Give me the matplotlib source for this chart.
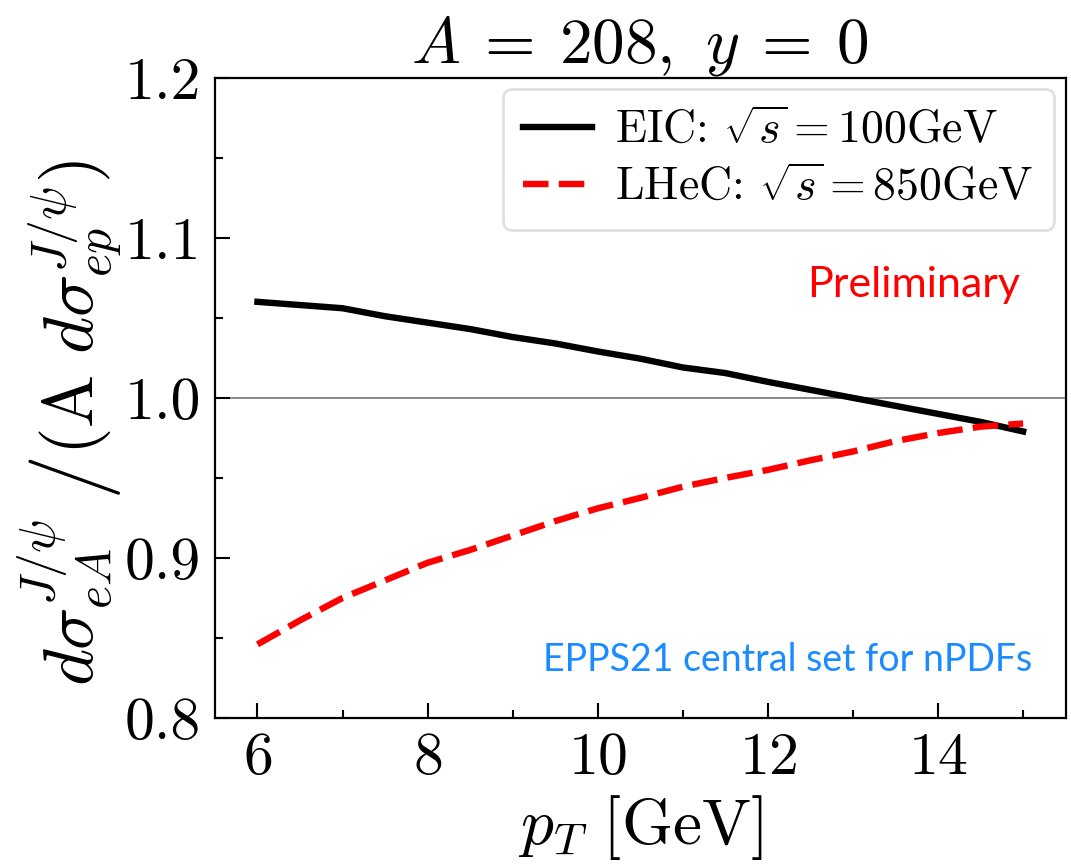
import numpy as np
import matplotlib.pyplot as plt
from matplotlib.mathtext import MathTextParser

# pT grid in GeV and the nuclear modification ratios
pt = [6.0, 6.5, 7.0, 7.5, 8.0, 8.5, 9.0, 9.5, 10.0, 10.5,
      11.0, 11.5, 12.0, 12.5, 13.0, 13.5, 14.0, 14.5, 15.0]
ratio_eic = [1.060, 1.058, 1.056, 1.051, 1.047, 1.043, 1.038, 1.034, 1.029, 1.0245,
             1.019, 1.0155, 1.010, 1.005, 1.000, 0.995, 0.990, 0.985, 0.979]
ratio_lhec = [0.846, 0.861, 0.875, 0.886, 0.897, 0.905, 0.914, 0.923, 0.931, 0.9375,
              0.9445, 0.950, 0.955, 0.961, 0.9665, 0.973, 0.978, 0.982, 0.984]

label_eic = r'EIC: $\sqrt{s}=100$GeV'
label_lhec = r'LHeC: $\sqrt{s}=850$GeV'

plt.rcParams['font.family'] = 'serif'
plt.rcParams['font.serif'] = ['cmr10']
plt.rcParams['mathtext.fontset'] = 'cm'
plt.rcParams['axes.formatter.use_mathtext'] = True
plt.rcParams['axes.unicode_minus'] = False

# y label with a tall slash; plain slash if the parser refuses it
ylab = r'$d\sigma_{eA}^{J/\psi}\;\left/(\mathrm{A}\ d\sigma_{ep}^{J/\psi})\right.$'
try:
    MathTextParser('path').parse(ylab)
except Exception:
    ylab = r'$d\sigma_{eA}^{J/\psi}\;/(\mathrm{A}\ d\sigma_{ep}^{J/\psi})$'

fig = plt.figure(figsize=(10.71, 8.64), dpi=100)
ax = fig.add_axes([0.2007, 0.169, 0.7943, 0.741])

ax.axhline(1.0, color='gray', linewidth=1.3, zorder=1)
ax.plot(pt, ratio_eic, color='black', linewidth=4.6, label=label_eic)
ax.plot(pt, ratio_lhec, color='red', linewidth=4.6, linestyle=(0, (4.0, 1.6)),
        label=label_lhec)

ax.set_xlim(5.5, 15.5)
ax.set_ylim(0.8, 1.2)
ax.set_xticks([6, 8, 10, 12, 14])
ax.set_xticks([7, 9, 11, 13, 15], minor=True)
ax.set_yticks([0.8, 0.9, 1.0, 1.1, 1.2])
ax.set_yticks([0.85, 0.95, 1.05, 1.15], minor=True)
ax.yaxis.set_major_formatter(plt.FuncFormatter(lambda v, p: f'{v:.1f}'))
ax.tick_params(which='both', direction='in', width=1.5, labelsize=43, pad=10)
ax.tick_params(which='major', length=11)
ax.tick_params(which='minor', length=6)
for s in ax.spines.values():
    s.set_linewidth(1.6)

ax.set_xlabel(r'$p_T\ [\mathrm{GeV}]$', fontsize=47, labelpad=5)
ax.set_ylabel(ylab, fontsize=51)
ax.yaxis.set_label_coords(-0.105, 0.46)
ax.set_title(r'$A\:=\:208,\ y\:=\:0$', fontsize=47, pad=8)

leg = ax.legend(loc='upper right', fontsize=33, frameon=True, fancybox=True,
                handlelength=1.5, borderpad=0.45, labelspacing=0.32,
                handletextpad=0.5, borderaxespad=0.25)
leg.get_frame().set_edgecolor('#d9d9d9')
leg.get_frame().set_linewidth(2)

ax.text(0.946, 0.677, 'Preliminary', transform=ax.transAxes, color='red',
        fontsize=31, family='Lato', ha='right', va='center')
ax.text(0.961, 0.09, 'EPPS21 central set for nPDFs', transform=ax.transAxes,
        color='#1a8cff', fontsize=27, family='Lato', ha='right', va='center')

fig.savefig('out.png', dpi=100)
